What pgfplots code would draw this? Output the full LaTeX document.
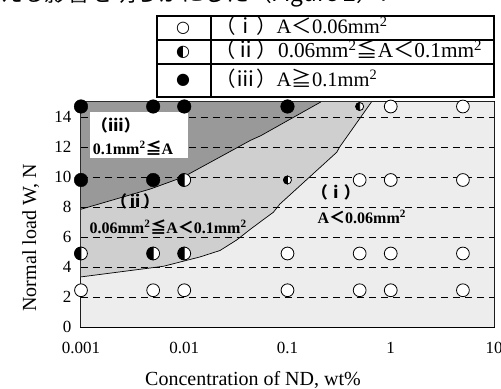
\documentclass[border=0pt]{standalone}
\usepackage{fontspec}
\setmainfont{Liberation Serif}
\newfontfamily\cjk{Noto Sans CJK JP}
\newfontfamily\dv{DejaVu Sans}
\usepackage{pgfplots}
\pgfplotsset{compat=1.18}

\pgfdeclareplotmark{halfc}{%
  \pgfpathcircle{\pgfpointorigin}{\pgfplotmarksize}%
  \pgfsetfillcolor{white}\pgfusepathqfillstroke
  \pgfpathmoveto{\pgfqpoint{0pt}{\pgfplotmarksize}}%
  \pgfpatharc{90}{270}{\pgfplotmarksize}%
  \pgfpathclose
  \pgfsetfillcolor{black}\pgfusepathqfillstroke
}

\begin{document}
\begin{tikzpicture}
\path (0bp,0bp) rectangle (501bp,389bp);
\begin{scope}
\clip (0bp,0bp) rectangle (501bp,389bp);
\node[anchor=base west, inner sep=0, font=\cjk\fontsize{22.7bp}{24bp}\selectfont] at (0bp,387bp) {える影響を明らかにした（Figure 2）．};
\end{scope}

% legend table
\draw[line width=1.6bp] (157bp,373bp) rectangle (494bp,292bp);
\draw[line width=1.2bp] (157bp,349bp) -- (494bp,349bp) (157bp,325bp) -- (494bp,325bp) (211bp,373bp) -- (211bp,292bp);
\node[font=\dv\fontsize{16bp}{18bp}\selectfont] at (183bp,361bp) {○};
\node[font=\dv\fontsize{16bp}{18bp}\selectfont] at (183bp,337bp) {◐};
\node[font=\dv\fontsize{16bp}{18bp}\selectfont] at (183bp,309bp) {●};
\begin{scope}[every node/.style={anchor=base west, inner sep=0, font=\fontsize{20.5bp}{22bp}\selectfont}]
\node at (215bp,355bp) {{\cjk （ⅰ）}A{\cjk ＜}0.06mm\textsuperscript{2}};
\node[font=\fontsize{21.3bp}{23bp}\selectfont] at (214bp,331bp) {{\cjk （ⅱ）}0.06mm\textsuperscript{2}{\cjk ≦}A{\cjk ＜}0.1mm\textsuperscript{2}};
\node at (215bp,302bp) {{\cjk （ⅲ）}A{\cjk ≧}0.1mm\textsuperscript{2}};
\end{scope}

\begin{axis}[
  at={(81bp,62bp)}, anchor=south west, scale only axis,
  width=413bp, height=225bp,
  xmode=log, xmin=0.001, xmax=10, ymin=0, ymax=15,
  xtick={0.001,0.01,0.1,1,10}, xticklabels={0.001,0.01,0.1,1,10},
  ytick={0,2,4,6,8,10,12,14}, minor y tick num=3,
  tick align=inside, tick pos=left,
  major tick length=6bp, minor tick length=3.5bp,
  axis line style={line width=1.5bp},
  tick style={black, line width=0.8bp},
  axis on top=false,
  ticklabel style={font=\fontsize{17bp}{20bp}\selectfont},
  /pgf/number format/assume math mode=true,
  xticklabel style={yshift=-12bp},
  yticklabel style={xshift=-6bp},
]
% region i (background)
\addplot[fill=black!7, draw=none] coordinates {(0.001,0) (10,0) (10,15) (0.001,15) (0.001,0)};
% region ii
\addplot[fill=black!19, draw=none] coordinates {
 (0.001,3.34) (0.0063,4.05) (0.0142,4.67) (0.0222,5.1) (0.0322,5.8) (0.0434,6.5)
 (0.0543,7.0) (0.073,7.65) (0.0845,8.2) (0.30,11.65) (0.32,12.0) (0.65,15)
 (0.21,15) (0.055,12.75) (0.044,12.45) (0.0098,10.0) (0.0047,9.2) (0.001,7.85) (0.001,3.34)};
% region iii
\addplot[fill=black!40, draw=none] coordinates {
 (0.001,7.85) (0.0047,9.2) (0.0098,10.0) (0.044,12.45) (0.055,12.75) (0.21,15) (0.001,15) (0.001,7.85)};
% dashed grid
\foreach \yy in {2,4,6,8,10,12,14} {
  \edef\temp{\noexpand\draw[black, line width=0.8bp, dash pattern=on 7bp off 5bp] (axis cs:0.001,\yy) -- (axis cs:10,\yy);}
  \temp
}
% boundaries
\addplot[black, line width=0.7bp] coordinates {
 (0.001,3.34) (0.0063,4.05) (0.0142,4.67) (0.0222,5.1) (0.0322,5.8) (0.0434,6.5)
 (0.0543,7.0) (0.073,7.65) (0.0845,8.2) (0.30,11.65) (0.32,12.0) (0.65,15)};
\addplot[black, line width=0.7bp] coordinates {
 (0.001,7.85) (0.0047,9.2) (0.0098,10.0) (0.044,12.45) (0.055,12.75) (0.21,15)};

\node[fill=white, minimum width=98bp, minimum height=46bp, inner sep=0] at (rel axis cs:0.1404,0.853) {};
\begin{scope}[every node/.style={font=\bfseries\fontsize{16bp}{18bp}\selectfont, inner sep=0}]
\node at (rel axis cs:0.0847,0.898) {\cjk （ⅲ）};
\node at (rel axis cs:0.126,0.796) {0.1mm\textsuperscript{2}{\cjk ≦}A};
\node at (rel axis cs:0.131,0.556) {\cjk （ⅱ）};
\node at (rel axis cs:0.211,0.444) {0.06mm\textsuperscript{2}{\cjk ≦}A{\cjk ＜}0.1mm\textsuperscript{2}};
\node at (rel axis cs:0.617,0.596) {\cjk （ⅰ）};
\node at (rel axis cs:0.680,0.489) {A{\cjk ＜}0.06mm\textsuperscript{2}};
\end{scope}

% open circles
\addplot[only marks, mark=*, mark size=6.4bp, mark options={fill=white, draw=black, line width=0.8bp}] coordinates {
 (0.001,2.45) (0.005,2.45) (0.01,2.45) (0.1,2.45) (0.5,2.45) (1,2.45) (5,2.45)
 (0.1,4.9) (0.5,4.9) (1,4.9) (5,4.9)
 (0.5,9.8) (1,9.8) (5,9.8)
 (1,14.7) (5,14.7)};
% half filled
\addplot[only marks, mark=halfc, mark size=6.4bp, mark options={draw=black, line width=0.8bp}] coordinates {
 (0.001,4.9) (0.005,4.9) (0.01,4.9) (0.01,9.8)};
\addplot[only marks, mark=halfc, mark size=4bp, mark options={draw=black, line width=0.8bp}] coordinates {
 (0.1,9.8) (0.5,14.7)};
% filled
\addplot[only marks, mark=*, mark size=6.8bp, mark options={fill=black, draw=black}] coordinates {
 (0.001,9.8) (0.005,9.8) (0.001,14.7) (0.005,14.7) (0.01,14.7) (0.1,14.7)};
\end{axis}

\node[anchor=base, inner sep=0, font=\fontsize{20bp}{22bp}\selectfont] at (253bp,4bp) {Concentration of ND, wt\%};
\node[anchor=base, rotate=90, inner sep=0, font=\fontsize{20bp}{22bp}\selectfont] at (36bp,151bp) {Normal load W, N};
\pgfresetboundingbox
\path (0bp,0bp) rectangle (501bp,389bp);
\end{tikzpicture}
\end{document}
